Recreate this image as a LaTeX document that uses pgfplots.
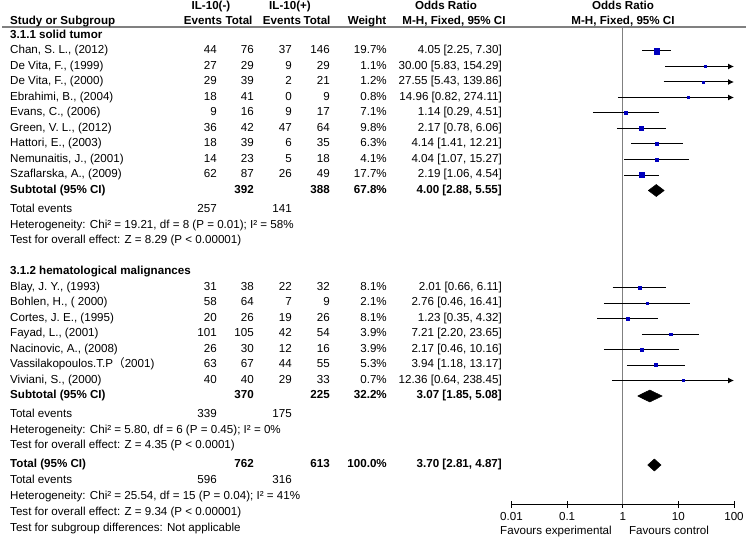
\documentclass[border=0pt]{standalone}
\usepackage{fontspec}
\setmainfont{Liberation Sans}
\newfontfamily\cjk{Noto Sans CJK SC}
\usepackage{pgfplots}
\pgfplotsset{compat=1.18}
\usetikzlibrary{arrows.meta}
\definecolor{sqblue}{RGB}{0,0,190}
\definecolor{lgray}{RGB}{128,128,128}
\newcommand\fs{\fontsize{11.6pt}{13pt}\selectfont}
\newcommand\TL[3]{\node[anchor=mid west] at (#1pt,-#2pt) {#3};}
\newcommand\TR[3]{\node[anchor=mid east] at (#1pt,-#2pt) {#3};}
\newcommand\TC[3]{\node[anchor=mid] at (#1pt,-#2pt) {#3};}
\newcommand\Row[8]{\TL{10}{#1}{#2}\TR{217}{#1}{#3}\TR{254}{#1}{#4}\TR{292}{#1}{#5}\TR{330}{#1}{#6}\TR{387}{#1}{#7}\TR{502}{#1}{#8}}
\newcommand\St[5]{\addplot[black,line width=1pt] coordinates {(#2,-#4) (#3,-#4)};
  \addplot[only marks,mark=square*,color=sqblue,mark size=#5pt] coordinates {(#1,-#4)};}
\newcommand\Sa[4]{\addplot[black,line width=1pt,-{Latex[length=6pt,width=6pt]}] coordinates {(#2,-#3) (100,-#3)};
  \addplot[only marks,mark=square*,color=sqblue,mark size=#4pt] coordinates {(#1,-#3)};}
% diamond: centre, lo, hi, y, ytop(negative), ybottom(negative)
\newcommand\Dm[6]{\addplot[fill=black,draw=black,line width=0.5pt] coordinates {(#2,-#4) (#1,#5) (#3,-#4) (#1,#6) (#2,-#4)};}
\begin{document}
\begin{tikzpicture}
\path[use as bounding box] (0,0) rectangle (746pt,-548pt);
\draw[lgray,line width=1.2pt] (2pt,-27pt) -- (746pt,-27pt);
\begin{axis}[
  at={(511.5pt,-504pt)}, anchor=south west,
  scale only axis, width=222.5pt, height=477pt,
  xmode=log, xmin=0.01, xmax=100, ymin=-504, ymax=-27,
  axis x line=bottom, axis y line=none, ytick=\empty,
  x axis line style={-, line width=1pt},
  xtick={0.01,0.1,1,10,100},
  xticklabels={\mbox{0.01},\mbox{0.1},\mbox{1},\mbox{10},\mbox{100}},
  xticklabel style={font=\fs, anchor=mid, inner sep=0pt, yshift=-10.5pt},
  tick align=center, major tick length=7pt,
  every tick/.style={black, line width=1pt},
  xminorticks=false, minor xtick={},
  clip=false,
]
\addplot[lgray,line width=1.2pt] coordinates {(1,-504) (1,-27)};
\St{4.05}{2.25}{7.30}{51}{2.8}
\Sa{30.00}{5.83}{66.5}{1.0}
\Sa{27.55}{5.43}{82}{1.0}
\Sa{14.96}{0.82}{97.5}{1.0}
\St{1.14}{0.29}{4.51}{113}{1.6}
\St{2.17}{0.78}{6.06}{128.5}{1.9}
\St{4.14}{1.41}{12.21}{144}{1.5}
\St{4.04}{1.07}{15.27}{159.5}{1.3}
\St{2.19}{1.06}{4.54}{175}{2.6}
\Dm{4.00}{2.88}{5.55}{190.5}{-184.5}{-196.5}
\St{2.01}{0.66}{6.11}{287.5}{1.7}
\St{2.76}{0.46}{16.41}{303}{1.1}
\St{1.23}{0.35}{4.32}{318.5}{1.7}
\St{7.21}{2.20}{23.65}{334}{1.3}
\St{2.17}{0.46}{10.16}{349.5}{1.3}
\St{3.94}{1.18}{13.17}{365}{1.5}
\Sa{12.36}{0.64}{380.5}{1.0}
\Dm{3.07}{1.85}{5.08}{396}{-390}{-402}
\Dm{3.70}{2.81}{4.87}{465}{-459}{-471}
\end{axis}
\begin{scope}[every node/.style={inner sep=0pt, font=\fs}]
% headers
\TC{211}{7}{\bfseries IL-10(-)}
\TC{290}{7}{\bfseries IL-10(+)}
\TC{446}{7}{\bfseries Odds Ratio}
\TC{623}{7}{\bfseries Odds Ratio}
\TL{10}{22}{\bfseries Study or Subgroup}
\TC{203}{22}{\bfseries Events}
\TC{239}{22}{\bfseries Total}
\TC{282}{22}{\bfseries Events}
\TC{317}{22}{\bfseries Total}
\TC{367}{22}{\bfseries Weight}
\TC{454}{22}{\bfseries M-H, Fixed, 95\% CI}
\TC{623}{22}{\bfseries M-H, Fixed, 95\% CI}
% group 1
\TL{10}{36}{\bfseries 3.1.1 solid tumor}
\Row{51}{Chan, S. L., (2012)}{44}{76}{37}{146}{19.7\%}{4.05 [2.25, 7.30]}
\Row{66.5}{De Vita, F., (1999)}{27}{29}{9}{29}{1.1\%}{30.00 [5.83, 154.29]}
\Row{82}{De Vita, F., (2000)}{29}{39}{2}{21}{1.2\%}{27.55 [5.43, 139.86]}
\Row{97.5}{Ebrahimi, B., (2004)}{18}{41}{0}{9}{0.8\%}{14.96 [0.82, 274.11]}
\Row{113}{Evans, C., (2006)}{9}{16}{9}{17}{7.1\%}{1.14 [0.29, 4.51]}
\Row{128.5}{Green, V. L., (2012)}{36}{42}{47}{64}{9.8\%}{2.17 [0.78, 6.06]}
\Row{144}{Hattori, E., (2003)}{18}{39}{6}{35}{6.3\%}{4.14 [1.41, 12.21]}
\Row{159.5}{Nemunaitis, J., (2001)}{14}{23}{5}{18}{4.1\%}{4.04 [1.07, 15.27]}
\Row{175}{Szaflarska, A., (2009)}{62}{87}{26}{49}{17.7\%}{2.19 [1.06, 4.54]}
\TL{10}{190.5}{\bfseries Subtotal (95\% CI)}
\TR{254}{190.5}{\bfseries 392}
\TR{330}{190.5}{\bfseries 388}
\TR{387}{190.5}{\bfseries 67.8\%}
\TR{502}{190.5}{\bfseries 4.00 [2.88, 5.55]}
\TL{10}{210}{Total events}
\TR{217}{210}{257}
\TR{292}{210}{141}
\TL{10}{225.5}{Heterogeneity: Chi² = 19.21, df = 8 (P = 0.01); I² = 58\%}
\TL{10}{241}{Test for overall effect: Z = 8.29 (P < 0.00001)}
% group 2
\TL{10}{272}{\bfseries 3.1.2 hematological malignances}
\Row{287.5}{Blay, J. Y., (1993)}{31}{38}{22}{32}{8.1\%}{2.01 [0.66, 6.11]}
\Row{303}{Bohlen, H., ( 2000)}{58}{64}{7}{9}{2.1\%}{2.76 [0.46, 16.41]}
\Row{318.5}{Cortes, J. E., (1995)}{20}{26}{19}{26}{8.1\%}{1.23 [0.35, 4.32]}
\Row{334}{Fayad, L., (2001)}{101}{105}{42}{54}{3.9\%}{7.21 [2.20, 23.65]}
\Row{349.5}{Nacinovic, A., (2008)}{26}{30}{12}{16}{3.9\%}{2.17 [0.46, 10.16]}
\Row{365}{Vassilakopoulos.T.P{\cjk （}2001)}{63}{67}{44}{55}{5.3\%}{3.94 [1.18, 13.17]}
\Row{380.5}{Viviani, S., (2000)}{40}{40}{29}{33}{0.7\%}{12.36 [0.64, 238.45]}
\TL{10}{396}{\bfseries Subtotal (95\% CI)}
\TR{254}{396}{\bfseries 370}
\TR{330}{396}{\bfseries 225}
\TR{387}{396}{\bfseries 32.2\%}
\TR{502}{396}{\bfseries 3.07 [1.85, 5.08]}
\TL{10}{415}{Total events}
\TR{217}{415}{339}
\TR{292}{415}{175}
\TL{10}{430.5}{Heterogeneity: Chi² = 5.80, df = 6 (P = 0.45); I² = 0\%}
\TL{10}{446}{Test for overall effect: Z = 4.35 (P < 0.0001)}
% total
\TL{10}{465}{\bfseries Total (95\% CI)}
\TR{254}{465}{\bfseries 762}
\TR{330}{465}{\bfseries 613}
\TR{387}{465}{\bfseries 100.0\%}
\TR{502}{465}{\bfseries 3.70 [2.81, 4.87]}
\TL{10}{481}{Total events}
\TR{217}{481}{596}
\TR{292}{481}{316}
\TL{10}{497}{Heterogeneity: Chi² = 25.54, df = 15 (P = 0.04); I² = 41\%}
\TL{10}{513}{Test for overall effect: Z = 9.34 (P < 0.00001)}
\TL{10}{529}{Test for subgroup differences: Not applicable}
\TC{556}{531.5}{Favours experimental}
\TC{669}{531.5}{Favours control}
\end{scope}
\end{tikzpicture}
\end{document}
